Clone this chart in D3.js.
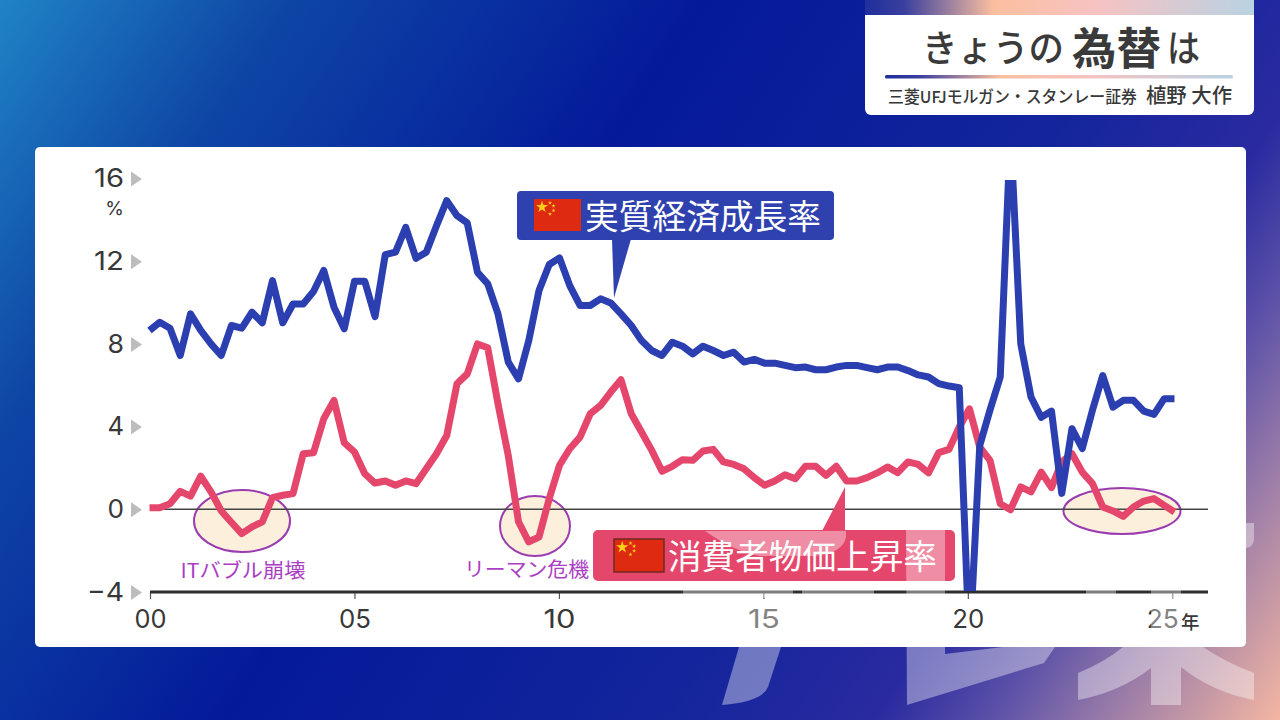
<!DOCTYPE html>
<html><head><meta charset="utf-8">
<style>html,body{margin:0;padding:0;background:#fff}svg{display:block}text{font-family:"Noto Sans CJK JP","Noto Sans",sans-serif}</style>
<script src="https://cdn.jsdelivr.net/npm/d3@7/dist/d3.min.js"></script>
</head><body><svg id="c" width="1280" height="720"></svg>
<script>
const firstYear = 2000;
const gdp = [8.65,9.05,8.76,7.44,9.45,8.65,8.0,7.44,8.89,8.76,9.53,9.02,11.06,9.02,9.93,9.93,10.53,11.55,9.77,8.73,
 11.03,11.03,9.32,12.32,12.44,13.64,12.14,12.43,13.72,14.93,14.2,13.85,11.46,10.9,9.45,7.12,6.31,8.16,10.58,11.84,
 12.16,10.82,9.86,9.86,10.18,9.98,9.45,8.89,8.16,7.68,7.44,8.08,7.89,7.52,7.89,7.68,7.44,7.6,7.12,7.25,
 7.07,7.07,6.96,6.85,6.88,6.75,6.75,6.88,6.96,6.96,6.85,6.75,6.88,6.88,6.71,6.5,6.4,6.08,5.96,5.88,
 -6.8,3.09,4.8,6.4,18.3,8.0,5.43,4.45,4.75,0.77,3.9,2.94,4.8,6.47,4.94,5.27,5.27,4.75,4.59,5.35,5.35];
const cpi = [0.08,0.08,0.27,0.87,0.64,1.6,0.84,-0.08,-0.64,-1.18,-0.85,-0.61,0.56,0.68,0.76,2.69,2.74,4.38,5.27,3.22,
 2.77,1.72,1.27,1.37,1.16,1.37,1.24,1.96,2.69,3.57,6.07,6.55,8.0,7.81,5.1,2.6,-0.6,-1.58,-1.34,0.52,
 2.13,2.93,3.49,4.62,5.02,5.67,6.27,4.62,3.74,2.85,1.84,2.08,2.4,2.37,2.82,2.9,2.29,2.17,1.96,1.53,
 1.16,1.37,1.67,1.48,2.08,2.08,1.64,2.08,1.37,1.37,1.53,1.76,2.05,1.77,2.29,2.17,1.76,2.74,2.9,3.98,
 4.86,3.0,2.37,0.27,-0.02,1.08,0.84,1.8,1.05,2.29,2.69,1.8,1.24,0.11,-0.08,-0.34,0.11,0.4,0.52,0.19,-0.13];
const xTickYears = [2000,2005,2010,2015,2020,2025];
const xTickLabels = ["00","05","10","15","20","25"];
const yTicks = [16,12,8,4,0,-4];
const gdpLabel = "実質経済成長率";
const cpiLabel = "消費者物価上昇率";
const eventLabels = ["ITバブル崩壊","リーマン危機"];

const svg = d3.select("#c"), defs = svg.append("defs");
const FONT_C = "#383838";
function grad(id, stops, attrs){
  const g = defs.append("linearGradient").attr("id",id);
  Object.entries(attrs).forEach(([k,v])=>g.attr(k,v));
  stops.forEach(s=>g.append("stop").attr("offset",s[0]).attr("stop-color",s[1]));
}
grad("bg",[[0,"#2083c6"],[0.163,"#0e46a5"],[0.40,"#04199a"],[0.65,"#14259c"],[0.77,"#2a2aa0"],[0.834,"#5a50a8"],[0.908,"#a080a8"],[1,"#f4b6a2"]],
  {gradientUnits:"userSpaceOnUse",x1:0,y1:0,x2:1216,y2:815});
grad("strip",[[0,"#1f2f9c"],[0.1,"#3a3f9e"],[0.33,"#fbbf9f"],[0.6,"#f6c3c3"],[1,"#b9d2e2"]],{x1:0,x2:1,y1:0,y2:0});

svg.append("rect").attr("width",1280).attr("height",720).attr("fill","url(#bg)");
// header
svg.append("rect").attr("x",865).attr("y",-10).attr("width",389).attr("height",125).attr("rx",6).attr("fill","#fff");
svg.append("rect").attr("x",865).attr("y",0).attr("width",389).attr("height",15).attr("fill","url(#strip)");
svg.append("rect").attr("x",885).attr("y",75).attr("width",348).attr("height",3.5).attr("rx",1.5).attr("fill","url(#strip)");
function txt(s,x,y,size,o={}){
  const t = svg.append("text").attr("x",x).attr("y",y).attr("font-size",size).attr("fill",o.fill||FONT_C)
    .attr("font-weight",o.weight||400).attr("text-anchor",o.anchor||"start").text(s);
  if(o.family) t.attr("font-family",o.family).style("font-family",o.family);
  if(o.len) t.attr("textLength",o.len).attr("lengthAdjust","spacingAndGlyphs");
  return t;
}
txt("きょうの",922,62,37,{len:142,fill:"#3a3a3a",weight:500});
txt("為替",1072,65,44,{weight:700,len:89,fill:"#3a3a3a"});
txt("は",1167,62,37,{len:33,fill:"#3a3a3a",weight:500});
txt("三菱UFJモルガン・スタンレー証券",888,103,16.5,{len:249,weight:500});
txt("植野 大作",1146,103,20.5,{len:86,weight:500});

// card
svg.append("rect").attr("x",35).attr("y",147).attr("width",1211).attr("height",500).attr("rx",5).attr("fill","#fff");

const x = d3.scaleLinear().domain([2000,2025]).range([150,1172.3]);
const xSeries = d3.scaleLinear().domain([2000,2025]).range([149.5,1174.5]);
const y = d3.scaleLinear().domain([-4,16]).range([592,178.5]);
const quarter = i => firstYear + i/4;

// ellipses
const ellipses = [[242,521,48,31],[535,526,35,30],[1122,511,58.5,23]];
svg.append("g").selectAll("ellipse").data(ellipses).join("ellipse")
  .attr("cx",d=>d[0]).attr("cy",d=>d[1]).attr("rx",d=>d[2]).attr("ry",d=>d[3])
  .attr("fill","#fcefdb").attr("stroke","#9a3cb0").attr("stroke-width",2);

// zero line
svg.append("line").attr("x1",150).attr("x2",1208).attr("y1",y(0)).attr("y2",y(0)).attr("stroke","#444").attr("stroke-width",1.5);

// x axis
const gx = svg.append("g").attr("transform",`translate(0,${y(-4)})`)
  .call(d3.axisBottom(x).tickValues(xTickYears).tickFormat((d,i)=>xTickLabels[i]).tickSize(7).tickSizeOuter(0).tickPadding(11));
gx.select(".domain").remove();
gx.selectAll("line").attr("stroke","#555").attr("stroke-width",1.2);
gx.selectAll("text").attr("font-size",26).attr("fill",FONT_C).style("font-family","Inter").attr("font-weight",400)
  .attr("textLength",32).attr("lengthAdjust","spacingAndGlyphs")
  .attr("dx",(d,i)=>xTickLabels[i]==="25"?-10:0);
svg.append("line").attr("x1",150).attr("x2",1208).attr("y1",y(-4)).attr("y2",y(-4)).attr("stroke","#2e2e2e").attr("stroke-width",3);
txt("年",1181,629,18.5,{weight:500});

// y axis
const gy = svg.append("g").attr("transform","translate(124,0)")
  .call(d3.axisLeft(y).tickValues(yTicks).tickFormat(d=>d<0?"−"+(-d):""+d).tickSize(0).tickPadding(0));
gy.select(".domain").remove();
gy.selectAll("text").attr("font-size",26).attr("fill",FONT_C).style("font-family","Inter").attr("font-weight",400)
  .attr("textLength",d=>d===16||d===12?30:(d<0?37:16.5)).attr("lengthAdjust","spacingAndGlyphs");
gy.selectAll(".tick").append("path").attr("d","M7,-7.5L18,0L7,7.5Z").attr("fill","#bdbdbd");
txt("%",124,215,19,{anchor:"end",family:"Inter",weight:400});

// lines
defs.append("clipPath").attr("id","plot").append("rect").attr("x",140).attr("y",180).attr("width",1075).attr("height",411);
const line = d3.line().x((d,i)=>xSeries(quarter(i))).y(d=>y(d)).curve(d3.curveLinear);
const plot = svg.append("g").attr("clip-path","url(#plot)");
plot.append("path").attr("d",line(cpi)).attr("fill","none").attr("stroke","#e5476c").attr("stroke-width",7).attr("stroke-linejoin","round");
plot.append("path").attr("d",line(gdp)).attr("fill","none").attr("stroke","#2b3fb0").attr("stroke-width",7).attr("stroke-linejoin","round");

// event labels
txt(eventLabels[0],243,578,20,{anchor:"middle",fill:"#ab3ec4",len:125});
txt(eventLabels[1],526.5,577,20,{anchor:"middle",fill:"#ab3ec4",len:125});

function flag(fx,fy,w,h,border){
  const g = svg.append("g").attr("transform",`translate(${fx},${fy})`);
  g.append("rect").attr("width",w).attr("height",h).attr("fill","#dd2a10").attr("stroke",border||"none").attr("stroke-width",border?1.5:0);
  const s = h/32;
  const star = d3.symbol().type(d3.symbolStar);
  g.append("path").attr("d",star.size(44*s*s)()).attr("transform",`translate(${8*s},${8*s})`).attr("fill","#fcd116");
  [[16,4],[19.5,7],[19.5,11.5],[16,15]].forEach(p=>
    g.append("path").attr("d",star.size(5*s*s)()).attr("transform",`translate(${p[0]*s},${p[1]*s})`).attr("fill","#fcd116"));
}
// blue callout
svg.append("rect").attr("x",517).attr("y",191).attr("width",317).attr("height",49).attr("rx",4).attr("fill","#2f41ae");
svg.append("path").attr("d","M612,239L631,239L614,298Z").attr("fill","#2f41ae");
flag(534,199,47,32);
txt(gdpLabel,585,229,33.7,{fill:"#fff",len:236});
// red callout
svg.append("rect").attr("x",593).attr("y",530).attr("width",362).attr("height",51).attr("rx",5).attr("fill","#e5476c");
svg.append("path").attr("d","M822,531L845,487L845,531Z").attr("fill","#e5476c");
flag(614,539,50,33,"#6e2a22");
txt(cpiLabel,668,569,33.6,{fill:"#fff",len:269});

// watermark overlay
const wm = svg.append("g").attr("fill","#fff").attr("fill-opacity",0.38);
[
 "M705,531L846,531L846,537Q843,553 815,556L760,556Q735,552 705,531Z",
 "M745,600L790,600L781,647L768,687Q762,702 722,705L739,647Z",
 "M683,586H793V598H683Z","M802,586H874V598H802Z",
 "M906,530H945V654L1003,647H1055L1044,663L907,705Z",
 "M1086,586H1116V598H1086Z",
 "M1151,586H1181V705H1151Z",
 "M1078,673Q1105,662 1123,647H1151V668Q1120,692 1078,700Z",
 "M1254,673Q1225,662 1203,647H1181V667Q1212,692 1254,700Z",
 "M1246,523H1254V540Q1253,547 1246,548Z"
].forEach(d=>wm.append("path").attr("d",d));
</script></body></html>
